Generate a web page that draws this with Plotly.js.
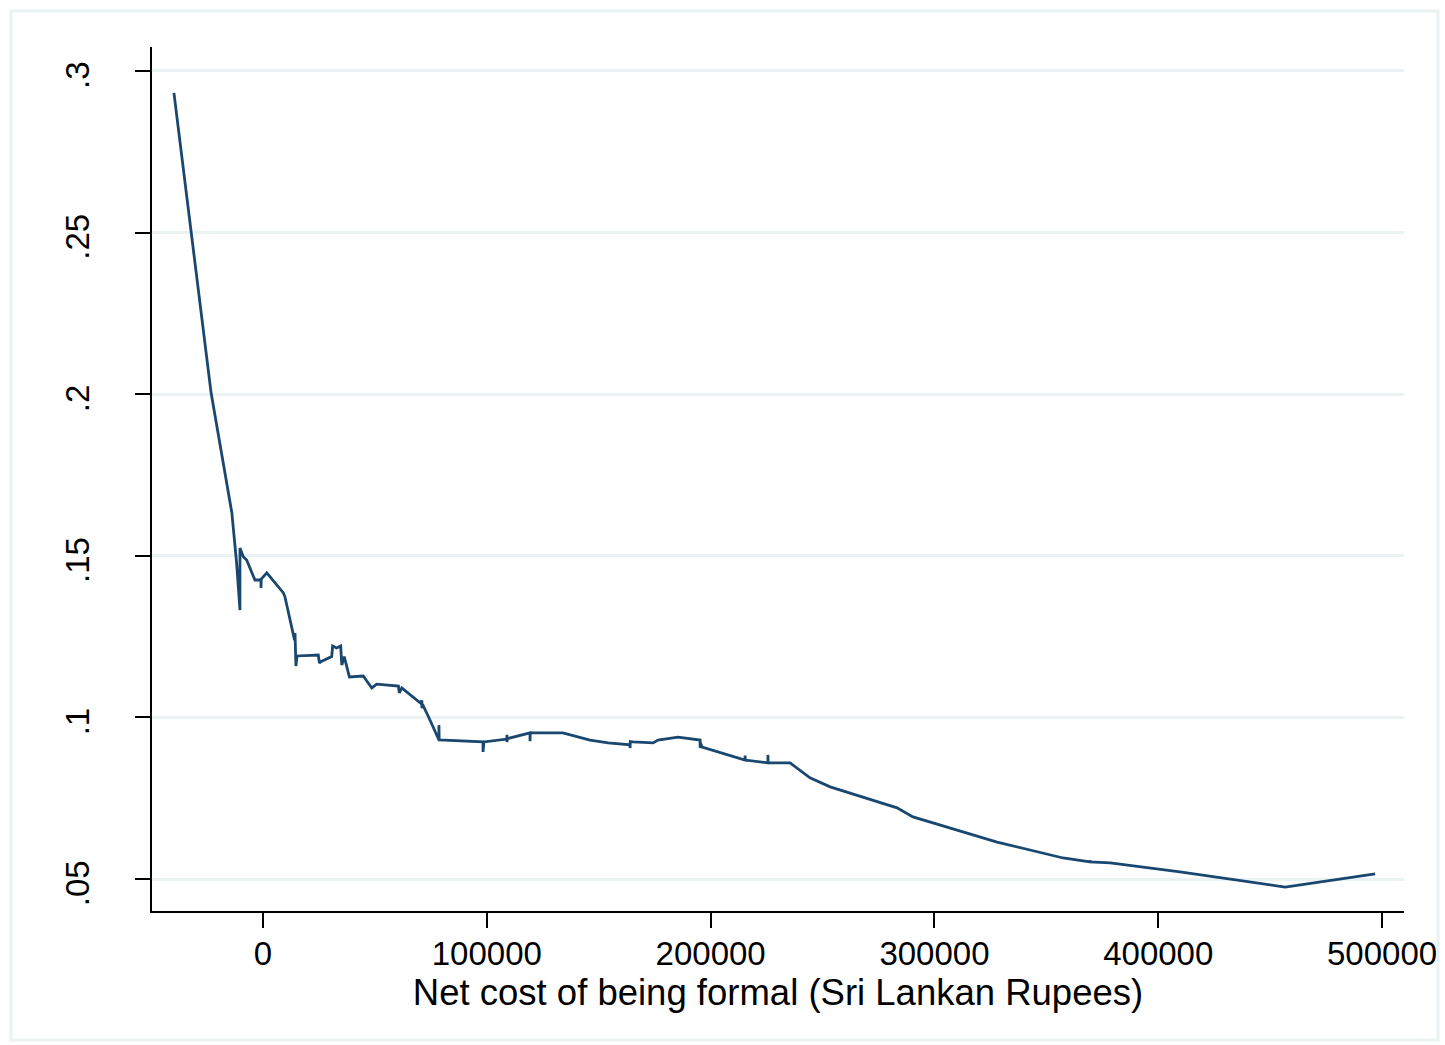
<!DOCTYPE html>
<html>
<head>
<meta charset="utf-8">
<script src="https://cdn.plot.ly/plotly-3.0.1.min.js"></script>
<style>html,body{margin:0;padding:0;background:#fff;}#chart{width:1445px;height:1045px;}</style>
</head>
<body>
<div id="chart"></div>
<script>
// Net cost of being formal (Sri Lankan Rupees)
const netCost = [
  -39800, -23200, -13900, -11800, -10300, -10300, -8800, -7300, -3600,
  -1300, -900, -900, -800, 1700, 9100, 9800, 14100, 14300, 14700,
  15200, 24700, 25200, 25800, 30700, 31100, 32900, 34700, 35200, 36300,
  38600, 44800, 48600, 50800, 60500, 60900, 62000, 70200, 71000, 71000,
  71300, 74600, 78600, 78600, 78700, 98300, 98300, 98700, 108900, 109000,
  109000, 109200, 119300, 119300, 119400, 134000, 146100, 154200, 164000, 164000,
  164100, 165300, 174300, 176500, 185400, 195300, 195300, 195400, 196200, 215400,
  215400, 215500, 225600, 225600, 225700, 235500, 244400, 253400, 283300, 290400,
  328000, 357500, 369500, 369500, 369600, 378500, 409700, 456700, 496900
];
const probability = [
  0.2932, 0.2004, 0.1632, 0.1478, 0.1332, 0.1524, 0.1497, 0.1487, 0.1425,
  0.1425, 0.1425, 0.1400, 0.1428, 0.1447, 0.1385, 0.1373, 0.1239, 0.1261, 0.1159,
  0.1190, 0.1193, 0.1168, 0.1172, 0.1188, 0.1221, 0.1215, 0.1221, 0.1162, 0.1188,
  0.1125, 0.1128, 0.1091, 0.1103, 0.1097, 0.1076, 0.1091, 0.1045, 0.1052, 0.1028,
  0.1040, 0.0992, 0.0930, 0.0976, 0.0930, 0.0924, 0.0893, 0.0924, 0.0933, 0.0946,
  0.0924, 0.0934, 0.0952, 0.0926, 0.0952, 0.0952, 0.0930, 0.0921, 0.0915, 0.0905,
  0.0925, 0.0924, 0.0921, 0.0930, 0.0939, 0.0930, 0.0905, 0.0921, 0.0908, 0.0868,
  0.0882, 0.0868, 0.0859, 0.0884, 0.0859, 0.0859, 0.0813, 0.0785, 0.0720, 0.0692,
  0.0614, 0.0565, 0.0553, 0.0558, 0.0553, 0.0550, 0.0522, 0.0475, 0.0516
];
const xTickVals = [0, 100000, 200000, 300000, 400000, 500000];
const xTickText = ["0", "100000", "200000", "300000", "400000", "500000"];
const yTickVals = [0.05, 0.1, 0.15, 0.2, 0.25, 0.3];
const yTickText = [".05", ".1", ".15", ".2", ".25", ".3"];

const W = 1445, H = 1045, L = 152, R = 41, T = 47, B = 134;
const pw = W - L - R, ph = H - T - B;
const px = v => (v - L) / pw;
const py = v => (H - B - v) / ph;

const trace = {
  x: netCost, y: probability, type: 'scatter', mode: 'lines',
  line: {color: '#1a476f', width: 2.8}, hoverinfo: 'skip'
};
const font = {family: '"Liberation Sans", Arial, sans-serif', color: '#000'};
const layout = {
  width: W, height: H,
  margin: {l: L, r: R, t: T, b: B, pad: 0},
  paper_bgcolor: '#fff', plot_bgcolor: '#fff',
  showlegend: false,
  font: font,
  xaxis: {
    range: [-49600, 509800], tickvals: xTickVals, ticktext: xTickText,
    showgrid: false, zeroline: false, showline: true, linecolor: '#000', linewidth: 2,
    ticks: 'outside', ticklen: 15, tickwidth: 2, tickcolor: '#000',
    ticklabelstandoff: -3,
    tickfont: {family: font.family, size: 33, color: '#000'},
    title: {text: 'Net cost of being formal (Sri Lankan Rupees)', font: {family: font.family, size: 36.5, color: '#000'}, standoff: 2},
    automargin: false
  },
  yaxis: {
    range: [0.0401, 0.3074], tickvals: yTickVals,
    ticktext: yTickText.map(t => t + '\u00a0\u00a0'),
    showgrid: true, gridcolor: '#eaf2f3', gridwidth: 3,
    zeroline: false, showline: true, linecolor: '#000', linewidth: 2,
    ticks: 'outside', ticklen: 15, tickwidth: 2, tickcolor: '#000',
    tickangle: -90, ticklabelstandoff: 33,
    tickfont: {family: font.family, size: 33, color: '#000'},
    automargin: false
  },
  shapes: [{
    type: 'rect', xref: 'paper', yref: 'paper',
    x0: px(11), x1: px(1438), y0: py(1040), y1: py(11),
    line: {color: '#eaf2f3', width: 3}, fillcolor: 'rgba(0,0,0,0)', layer: 'below'
  }]
};
Plotly.newPlot('chart', [trace], layout, {displayModeBar: false, staticPlot: true});
</script>
</body>
</html>
